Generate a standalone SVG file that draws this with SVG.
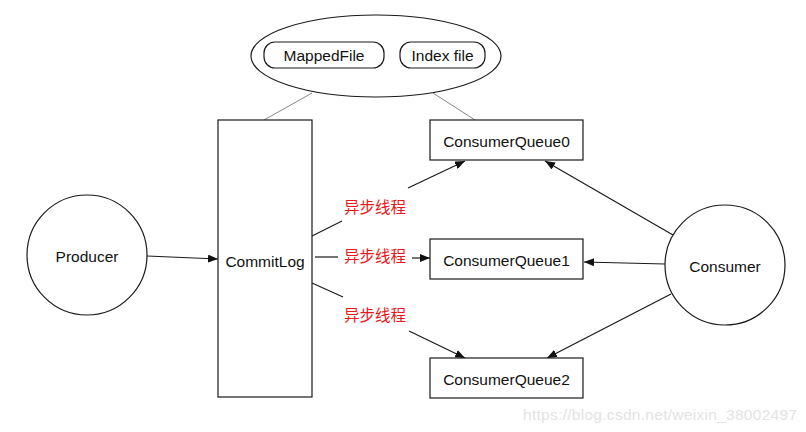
<svg xmlns="http://www.w3.org/2000/svg" width="806" height="432" viewBox="0 0 806 432">
<style>
  .shape{fill:#fff;stroke:#1a1a1a;stroke-width:1.2}
  .lbl{font-family:"Liberation Sans",Arial,sans-serif;font-size:15.5px;fill:#111;text-anchor:middle;dominant-baseline:central}
  .red{font-family:"Noto Sans CJK SC","Noto Sans",sans-serif;font-size:15.5px;fill:#e8191b;text-anchor:middle;dominant-baseline:central}
  .edge{stroke:#1a1a1a;stroke-width:1.2;fill:none}
  .thin{stroke:#888;stroke-width:1;fill:none}
  .wm{font-family:"Liberation Sans",Arial,sans-serif;font-size:15.5px;fill:#e3e3e3}
</style>
<defs>
  <marker id="arr" viewBox="0 0 10 8" refX="10" refY="4" markerWidth="10" markerHeight="8" markerUnits="userSpaceOnUse" orient="auto">
    <path d="M0,0 L10,4 L0,8 Z" fill="#111"/>
  </marker>
</defs>
<rect width="806" height="432" fill="#fff"/>

<g id="connectors">
  <line class="thin" x1="312" y1="93" x2="264" y2="120"/>
  <line class="thin" x1="433" y1="93" x2="475" y2="120"/>
  <line class="edge" x1="147" y1="256" x2="218" y2="259" marker-end="url(#arr)"/>
  <line class="edge" x1="312" y1="236" x2="342" y2="221"/>
  <line class="edge" x1="408" y1="188" x2="465" y2="161" marker-end="url(#arr)"/>
  <line class="edge" x1="315" y1="257" x2="338" y2="257"/>
  <line class="edge" x1="412" y1="258" x2="430" y2="258" marker-end="url(#arr)"/>
  <line class="edge" x1="312" y1="283" x2="343" y2="297"/>
  <line class="edge" x1="409" y1="331" x2="465" y2="358" marker-end="url(#arr)"/>
  <line class="edge" x1="673" y1="235" x2="545" y2="161" marker-end="url(#arr)"/>
  <line class="edge" x1="665" y1="264" x2="584" y2="262" marker-end="url(#arr)"/>
  <line class="edge" x1="671" y1="294" x2="547" y2="358" marker-end="url(#arr)"/>
  <text class="red" x="375" y="206">异步线程</text>
  <text class="red" x="375" y="255">异步线程</text>
  <text class="red" x="375" y="314">异步线程</text>
</g>

<g id="storage">
  <ellipse class="shape" cx="376" cy="56" rx="125" ry="41"/>
</g>
<g id="mappedfile">
  <rect class="shape" x="264" y="42" width="120" height="26" rx="11"/>
  <text class="lbl" x="324" y="55">MappedFile</text>
</g>
<g id="indexfile">
  <rect class="shape" x="400" y="42" width="85" height="26" rx="11"/>
  <text class="lbl" x="442.5" y="55">Index file</text>
</g>

<g id="producer">
  <circle class="shape" cx="87" cy="255" r="60"/>
  <text class="lbl" x="87" y="256">Producer</text>
</g>

<g id="commitlog">
  <rect class="shape" x="218" y="120" width="94" height="277"/>
  <text class="lbl" x="265" y="261">CommitLog</text>
</g>

<g id="cq0">
  <rect class="shape" x="430" y="120" width="153" height="40"/>
  <text class="lbl" x="506.5" y="141">ConsumerQueue0</text>
</g>
<g id="cq1">
  <rect class="shape" x="430" y="239" width="153" height="40"/>
  <text class="lbl" x="506.5" y="260">ConsumerQueue1</text>
</g>
<g id="cq2">
  <rect class="shape" x="430" y="358" width="153" height="40"/>
  <text class="lbl" x="506.5" y="379">ConsumerQueue2</text>
</g>

<g id="consumer">
  <circle class="shape" cx="725" cy="265" r="60"/>
  <text class="lbl" x="725" y="266">Consumer</text>
</g>

<text class="wm" x="523" y="420" textLength="274">https://blog.csdn.net/weixin_38002497</text>
</svg>
